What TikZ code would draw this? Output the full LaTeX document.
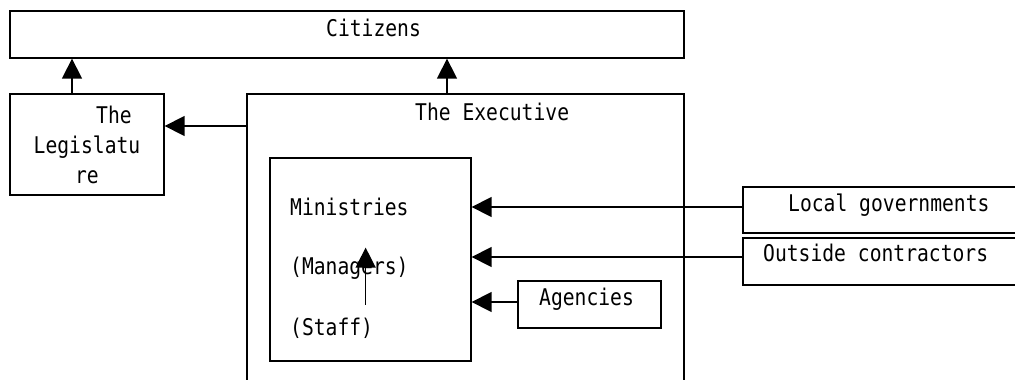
\documentclass[tikz,border=0pt]{standalone}
\usepackage{fontspec}
\newfontfamily\boxfont[FakeStretch=0.855]{DejaVu Sans Mono}
\usetikzlibrary{arrows.meta}

\begin{document}
\begin{tikzpicture}[
            x=1pt, y=-1pt,
            box/.style={draw, rectangle, line width=1.3pt, inner sep=0pt},
            txt/.style={font=\boxfont\fontsize{23}{30}\selectfont, inner sep=0pt},
            lbl/.style={txt, anchor=west},
            tip/.style={-{Triangle[length=20pt, width=20pt]}, line width=1.4pt}
            ]
            \clip (0,0) rectangle (1015,380);

            % caixas
            \node[box, minimum width=674pt, minimum height=47pt] (citizens) at (347,34.5) {};
            \node[box, txt, align=center, minimum width=154pt, minimum height=101pt] (legis) at (87,144.5) {\hspace*{54pt}The\\Legislatu\\re};
            \node[box, minimum width=437pt, minimum height=326pt] (exec) at (465.5,257) {};
            \node[box, minimum width=201pt, minimum height=203pt] (mins) at (370.5,259.5) {};
            \node[box, minimum width=143pt, minimum height=47pt] (agencies) at (589.5,304.5) {};
            \node[box, minimum width=287pt, minimum height=46pt] (local) at (886.5,210) {};
            \node[box, minimum width=287pt, minimum height=47pt] (outside) at (886.5,261.5) {};

            % textos
            \node[lbl] (citlbl) at (326,28) {Citizens};
            \node[lbl] (execlbl) at (415,112) {The Executive};
            \node[lbl] (minlbl) at (290,207) {Ministries};
            \node[lbl] (mgr) at (290,268) {(Managers)};
            \node[lbl] (staff) at (290,328) {(Staff)};
            \node[lbl] (aglbl) at (539,299) {Agencies};
            \node[lbl] (loclbl) at (788,205) {Local governments};
            \node[lbl] (outlbl) at (763,253) {Outside contractors};

            % setas
            \draw[tip] ([xshift=-15pt]legis.north) -- ([xshift=-15pt]legis.north |- citizens.south);
            \draw[tip] ([xshift=-18.5pt]exec.north) -- ([xshift=-18.5pt]exec.north |- citizens.south);
            \draw[tip] ([yshift=18.5pt]legis.east -| exec.west) -- ([yshift=18.5pt]legis.east);
            \draw[tip] ([yshift=3pt]local.west) -- ([yshift=3pt]local.west -| mins.east);
            \draw[tip] ([yshift=4.5pt]outside.west) -- ([yshift=4.5pt]outside.west -| mins.east);
            \draw[tip] ([yshift=2.5pt]agencies.west) -- ([yshift=2.5pt]agencies.west -| mins.east);
            \draw[tip] ([xshift=34pt,yshift=13pt]staff.north) -- ([xshift=34pt,yshift=9pt]staff.north |- mgr.north);

        \end{tikzpicture}
\end{document}
